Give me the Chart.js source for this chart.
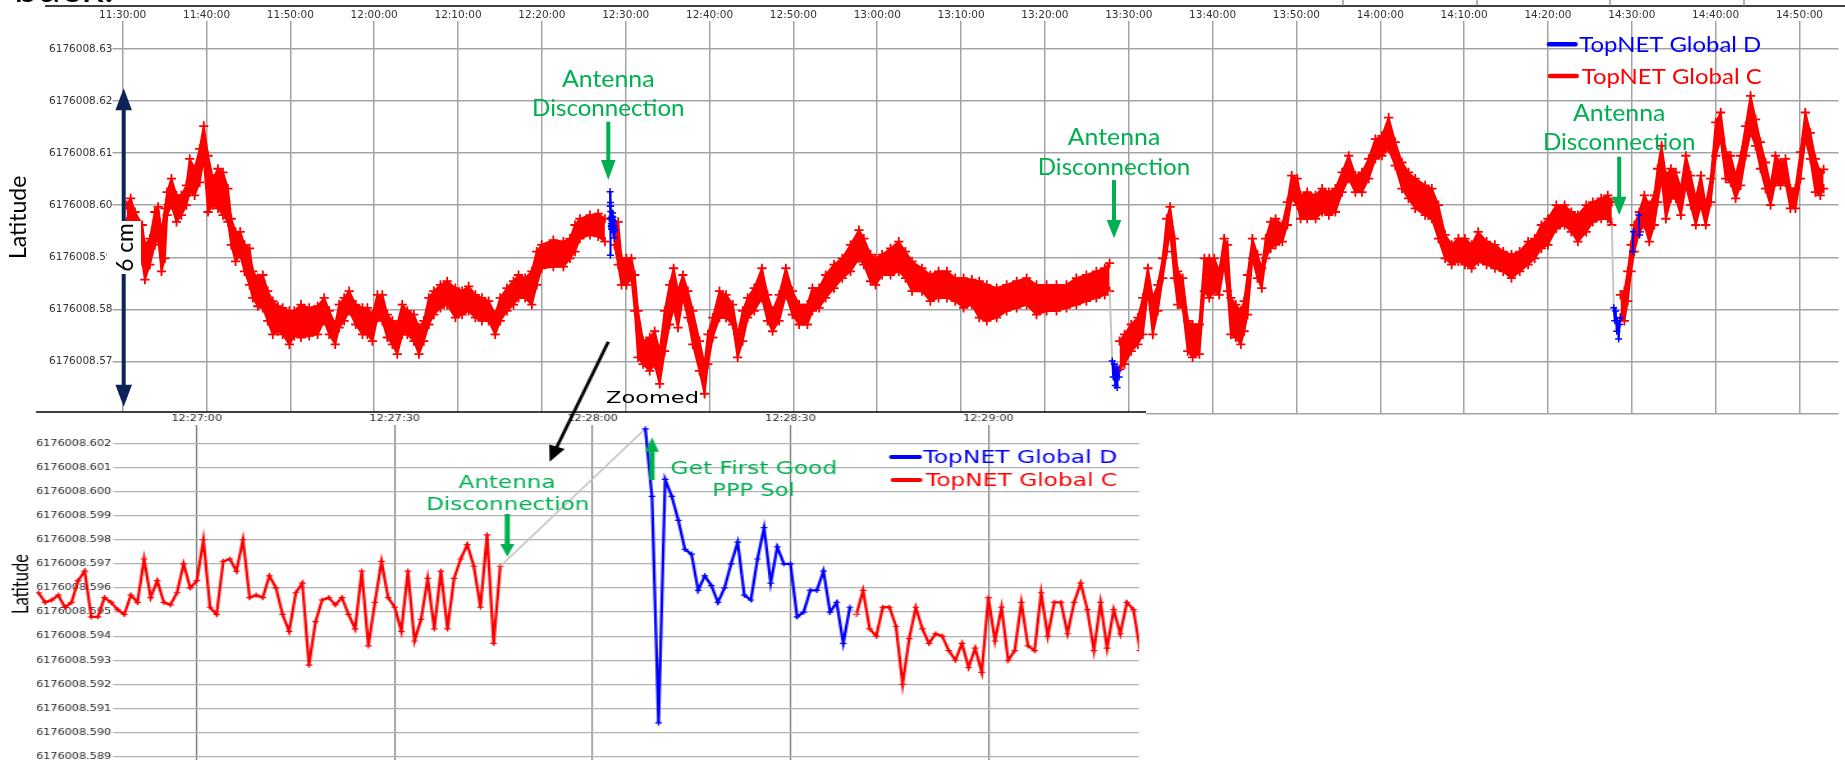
<!DOCTYPE html>
<html>
<head>
<meta charset="utf-8">
<script src="https://cdn.jsdelivr.net/npm/chart.js@4.4.1/dist/chart.umd.min.js"></script>
<style>
  html, body { margin: 0; padding: 0; background: #fff; width: 1845px; height: 771px; overflow: hidden; }
  #wrap { position: relative; width: 1845px; height: 771px; }
  #overview { position: absolute; left: 0; top: 0; z-index: 1; }
  #detail { position: absolute; left: 0; top: 330px; z-index: 2; transform: scaleX(1.28); transform-origin: 0 0; }
</style>
</head>
<body>
<div id="wrap">
  <canvas id="overview" width="1845" height="420" style="width:1845px;height:420px"></canvas>
  <canvas id="detail" width="895" height="441" style="width:895px;height:441px"></canvas>
</div>
<script>
// ---------- Overview (11:30 - 14:53): TopNET Global C band, upper / lower edge ----------
const segATimes = [
  '11:30:28','11:30:57','11:31:28','11:32:20','11:32:39','11:33:15','11:33:50','11:34:14','11:34:38','11:35:02',
  '11:35:18','11:35:49','11:36:25','11:37:00','11:37:36','11:38:00','11:38:35','11:39:11','11:39:40','11:40:11',
  '11:40:46','11:41:22','11:41:58','11:42:33','11:42:57','11:43:28','11:44:01','11:44:32','11:45:08','11:45:31',
  '11:46:07','11:46:43','11:47:18','11:47:54','11:48:30','11:49:05','11:49:53','11:50:28','11:51:16','11:52:15',
  '11:53:15','11:54:02','11:54:38','11:55:21','11:55:49','11:56:25','11:57:01','11:57:48','11:58:36','11:59:11',
  '11:59:47','12:00:23','12:00:58','12:01:34','12:02:10','12:02:45','12:03:21','12:03:57','12:04:44','12:05:20',
  '12:05:55','12:06:31','12:07:07','12:07:54','12:08:42','12:09:41','12:10:29','12:11:16','12:12:04','12:12:51',
  '12:13:39','12:14:26','12:15:02','12:15:50','12:16:37','12:17:13','12:18:00','12:18:48','12:19:23','12:19:59',
  '12:21:22','12:22:34','12:23:21','12:23:57','12:24:32','12:25:44','12:26:43','12:27:31'];
const segAHigh = [
  6176008.6000,6176008.6013,6176008.5987,6176008.5962,6176008.5924,6176008.5936,6176008.5987,6176008.5997,6176008.5949,6176008.5994,
  6176008.6025,6176008.6051,6176008.6019,6176008.6019,6176008.6038,6176008.6089,6176008.6070,6176008.6108,6176008.6152,6176008.6095,
  6176008.6051,6176008.6070,6176008.6063,6176008.6032,6176008.5974,6176008.5949,6176008.5949,6176008.5924,6176008.5917,6176008.5873,
  6176008.5860,6176008.5866,6176008.5835,6176008.5816,6176008.5806,6176008.5803,6176008.5797,6176008.5797,6176008.5809,6176008.5803,
  6176008.5806,6176008.5822,6176008.5797,6176008.5771,6176008.5809,6176008.5822,6176008.5835,6176008.5809,6176008.5803,6176008.5803,
  6176008.5790,6176008.5828,6176008.5828,6176008.5790,6176008.5778,6176008.5771,6176008.5809,6176008.5797,6176008.5790,6176008.5765,
  6176008.5778,6176008.5822,6176008.5835,6176008.5847,6176008.5854,6176008.5841,6176008.5835,6176008.5844,6176008.5828,6176008.5822,
  6176008.5816,6176008.5790,6176008.5822,6176008.5841,6176008.5854,6176008.5866,6176008.5860,6176008.5873,6176008.5911,6176008.5924,
  6176008.5933,6176008.5930,6176008.5936,6176008.5962,6176008.5974,6176008.5981,6176008.5984,6176008.5974];
const segALow = [
  6176008.5968,6176008.5974,6176008.5949,6176008.5892,6176008.5857,6176008.5886,6176008.5924,6176008.5936,6176008.5873,6176008.5898,
  6176008.5981,6176008.6000,6176008.5968,6176008.5981,6176008.6000,6176008.6025,6176008.6019,6176008.6044,6176008.6089,6176008.5987,
  6176008.6000,6176008.5994,6176008.5981,6176008.5968,6176008.5924,6176008.5892,6176008.5905,6176008.5873,6176008.5847,6176008.5822,
  6176008.5806,6176008.5803,6176008.5778,6176008.5752,6176008.5758,6176008.5752,6176008.5733,6176008.5749,6176008.5746,6176008.5749,
  6176008.5752,6176008.5778,6176008.5752,6176008.5733,6176008.5765,6176008.5778,6176008.5797,6176008.5771,6176008.5752,6176008.5752,
  6176008.5739,6176008.5784,6176008.5778,6176008.5746,6176008.5733,6176008.5714,6176008.5752,6176008.5752,6176008.5739,6176008.5714,
  6176008.5739,6176008.5771,6176008.5790,6176008.5803,6176008.5809,6176008.5784,6176008.5790,6176008.5797,6176008.5784,6176008.5778,
  6176008.5778,6176008.5752,6176008.5778,6176008.5797,6176008.5809,6176008.5822,6176008.5822,6176008.5809,6176008.5847,6176008.5879,
  6176008.5882,6176008.5882,6176008.5898,6176008.5911,6176008.5936,6176008.5943,6176008.5940,6176008.5930];

const segBTimes = [
  '12:28:40','12:29:06','12:29:30','12:30:05','12:30:41','12:31:05','12:31:28','12:32:04','12:32:52','12:33:27',
  '12:34:03','12:34:39','12:35:14','12:35:43','12:36:14','12:36:49','12:37:25','12:38:00','12:38:48','12:39:24',
  '12:39:48','12:40:23','12:41:11','12:41:58','12:42:46','12:43:21','12:43:57','12:44:33','12:45:20','12:46:15',
  '12:46:55','12:47:31','12:48:18','12:49:06','12:49:53','12:50:41','12:51:40','12:52:16','12:53:04','12:53:51',
  '12:54:51','12:55:50','12:56:49','12:57:49','12:58:24','12:59:12','12:59:48','13:00:35','13:01:35','13:02:34',
  '13:03:22','13:04:09','13:05:20','13:06:20','13:07:19','13:08:19','13:09:18','13:10:18','13:11:17','13:12:10',
  '13:13:04','13:14:15','13:15:26','13:16:38','13:17:49','13:19:00','13:20:12','13:21:23','13:22:34','13:23:45',
  '13:24:57','13:26:08','13:27:08','13:27:43'];
const segBHigh = [
  6176008.5968,6176008.5968,6176008.5898,6176008.5898,6176008.5898,6176008.5866,6176008.5797,6176008.5739,6176008.5746,6176008.5758,
  6176008.5720,6176008.5797,6176008.5847,6176008.5879,6176008.5835,6176008.5866,6176008.5835,6176008.5797,6176008.5739,6176008.5695,
  6176008.5752,6176008.5784,6176008.5835,6176008.5828,6176008.5809,6176008.5752,6176008.5797,6176008.5822,6176008.5841,6176008.5879,
  6176008.5828,6176008.5797,6176008.5828,6176008.5879,6176008.5835,6176008.5809,6176008.5809,6176008.5841,6176008.5841,6176008.5866,
  6176008.5886,6176008.5898,6176008.5924,6176008.5952,6176008.5936,6176008.5905,6176008.5898,6176008.5905,6176008.5917,6176008.5930,
  6176008.5911,6176008.5892,6176008.5879,6176008.5866,6176008.5873,6176008.5873,6176008.5860,6176008.5860,6176008.5857,6176008.5854,
  6176008.5847,6176008.5841,6176008.5847,6176008.5854,6176008.5860,6176008.5847,6176008.5847,6176008.5847,6176008.5847,6176008.5860,
  6176008.5866,6176008.5873,6176008.5879,6176008.5889];
const segBLow = [
  6176008.5924,6176008.5886,6176008.5847,6176008.5847,6176008.5860,6176008.5797,6176008.5708,6176008.5695,6176008.5682,6176008.5695,
  6176008.5657,6176008.5720,6176008.5771,6176008.5803,6176008.5765,6176008.5822,6176008.5784,6176008.5733,6176008.5682,6176008.5638,
  6176008.5695,6176008.5746,6176008.5784,6176008.5784,6176008.5771,6176008.5708,6176008.5739,6176008.5784,6176008.5797,6176008.5822,
  6176008.5778,6176008.5758,6176008.5778,6176008.5828,6176008.5790,6176008.5771,6176008.5771,6176008.5797,6176008.5803,6176008.5822,
  6176008.5841,6176008.5860,6176008.5873,6176008.5898,6176008.5886,6176008.5854,6176008.5847,6176008.5866,6176008.5866,6176008.5873,
  6176008.5860,6176008.5835,6176008.5835,6176008.5816,6176008.5822,6176008.5822,6176008.5816,6176008.5803,6176008.5809,6176008.5784,
  6176008.5778,6176008.5784,6176008.5797,6176008.5803,6176008.5809,6176008.5790,6176008.5797,6176008.5797,6176008.5803,6176008.5809,
  6176008.5816,6176008.5822,6176008.5828,6176008.5835];

const segCTimes = [
  '13:28:54','13:29:30','13:30:18','13:31:05','13:31:41','13:32:17','13:32:52','13:33:28','13:34:03','13:34:32',
  '13:34:56','13:35:27','13:35:50','13:36:26','13:37:02','13:37:37','13:38:25','13:39:01','13:39:36','13:40:12',
  '13:40:47','13:41:23','13:41:47','13:42:11','13:42:46','13:43:22','13:43:46','13:44:10','13:44:45','13:45:21',
  '13:45:52','13:46:20','13:46:56','13:47:31','13:48:19','13:48:55','13:49:26','13:50:06','13:50:30','13:51:17',
  '13:52:17','13:53:04','13:53:52','13:54:39','13:55:27','13:56:14','13:57:02','13:57:49','13:58:37','13:59:25',
  '14:00:12','14:01:00','14:01:47','14:02:35','14:03:22','14:04:10','14:05:21','14:06:09','14:06:56','14:07:44',
  '14:08:31','14:09:19','14:10:06','14:10:54','14:11:41','14:12:41','14:13:40','14:14:40','14:15:39','14:16:38',
  '14:17:38','14:18:25','14:19:13','14:20:00','14:21:00','14:21:59','14:22:47','14:23:34','14:24:34','14:25:21',
  '14:26:21','14:27:08','14:27:37'];
const segCHigh = [
  6176008.5739,6176008.5752,6176008.5771,6176008.5784,6176008.5822,6176008.5879,6176008.5822,6176008.5847,6176008.5898,6176008.5974,
  6176008.5997,6176008.5936,6176008.5873,6176008.5860,6176008.5778,6176008.5771,6176008.5771,6176008.5898,6176008.5898,6176008.5898,
  6176008.5873,6176008.5936,6176008.5924,6176008.5822,6176008.5809,6176008.5797,6176008.5816,6176008.5866,6176008.5936,6176008.5905,
  6176008.5879,6176008.5936,6176008.5968,6176008.5974,6176008.5962,6176008.6006,6176008.6057,6176008.6051,6176008.6019,6176008.6025,
  6176008.6019,6176008.6032,6176008.6025,6176008.6032,6176008.6063,6176008.6095,6176008.6057,6176008.6063,6176008.6089,6176008.6127,
  6176008.6133,6176008.6168,6176008.6121,6176008.6082,6176008.6063,6176008.6051,6176008.6038,6176008.6032,6176008.6000,6176008.5943,
  6176008.5924,6176008.5936,6176008.5936,6176008.5924,6176008.5949,6176008.5930,6176008.5924,6176008.5911,6176008.5905,6176008.5911,
  6176008.5930,6176008.5936,6176008.5962,6176008.5974,6176008.6000,6176008.6000,6176008.5987,6176008.5981,6176008.6000,6176008.6006,
  6176008.6013,6176008.6019,6176008.6006];
const segCLow = [
  6176008.5685,6176008.5695,6176008.5720,6176008.5733,6176008.5752,6176008.5835,6176008.5752,6176008.5797,6176008.5860,6176008.5911,
  6176008.5949,6176008.5860,6176008.5809,6176008.5803,6176008.5720,6176008.5708,6176008.5714,6176008.5835,6176008.5822,6176008.5835,
  6176008.5828,6176008.5886,6176008.5835,6176008.5752,6176008.5746,6176008.5733,6176008.5758,6176008.5790,6176008.5898,6176008.5860,
  6176008.5841,6176008.5898,6176008.5917,6176008.5924,6176008.5930,6176008.5962,6176008.6013,6176008.6000,6176008.5974,6176008.5974,
  6176008.5974,6176008.5987,6176008.5981,6176008.5987,6176008.6025,6176008.6051,6176008.6025,6176008.6025,6176008.6051,6176008.6089,
  6176008.6095,6176008.6108,6176008.6076,6176008.6032,6176008.6013,6176008.5994,6176008.5981,6176008.5974,6176008.5936,6176008.5898,
  6176008.5886,6176008.5892,6176008.5886,6176008.5879,6176008.5892,6176008.5886,6176008.5879,6176008.5873,6176008.5860,6176008.5873,
  6176008.5886,6176008.5898,6176008.5917,6176008.5924,6176008.5955,6176008.5962,6176008.5949,6176008.5930,6176008.5949,6176008.5968,
  6176008.5974,6176008.5974,6176008.5962];

const segDTimes = [
  '14:28:39','14:29:07','14:29:31','14:29:55','14:30:18','14:30:54','14:31:30','14:32:05','14:32:41','14:33:05',
  '14:33:33','14:34:04','14:34:40','14:35:15','14:35:51','14:36:27','14:37:02','14:37:38','14:38:14','14:38:49',
  '14:39:25','14:40:01','14:40:36','14:41:12','14:41:48','14:42:23','14:42:59','14:43:35','14:44:10','14:44:46',
  '14:45:21','14:45:57','14:46:33','14:47:08','14:47:44','14:48:20','14:48:55','14:49:31','14:50:07','14:50:42',
  '14:51:18','14:51:54','14:52:29','14:52:53'];
const segDHigh = [
  6176008.5828,6176008.5835,6176008.5873,6176008.5924,6176008.5962,6176008.5987,6176008.6019,6176008.6000,6176008.6019,6176008.6070,
  6176008.6114,6176008.6057,6176008.6070,6176008.6063,6176008.6032,6176008.6095,6176008.6057,6176008.6013,6176008.6057,6176008.6000,
  6176008.6051,6176008.6159,6176008.6178,6176008.6102,6176008.6095,6176008.6057,6176008.6095,6176008.6152,6176008.6210,6176008.6165,
  6176008.6121,6176008.6082,6176008.6038,6176008.6095,6176008.6082,6176008.6089,6176008.6032,6176008.6032,6176008.6102,6176008.6178,
  6176008.6139,6176008.6089,6176008.6063,6176008.6069];
const segDLow = [
  6176008.5784,6176008.5778,6176008.5816,6176008.5873,6176008.5911,6176008.5949,6176008.5962,6176008.5930,6176008.5962,6176008.6006,
  6176008.6051,6176008.5974,6176008.6013,6176008.6013,6176008.5981,6176008.6038,6176008.6000,6176008.5962,6176008.6000,6176008.5962,
  6176008.6006,6176008.6095,6176008.6127,6176008.6051,6176008.6044,6176008.6013,6176008.6038,6176008.6095,6176008.6140,6176008.6114,
  6176008.6070,6176008.6032,6176008.6000,6176008.6044,6176008.6038,6176008.6044,6176008.5994,6176008.5994,6176008.6051,6176008.6127,
  6176008.6089,6176008.6025,6176008.6019,6176008.6032];

// TopNET Global D after the 2nd and 3rd antenna reconnections
const blue2Times = ['13:28:02','13:28:09','13:28:16','13:28:23','13:28:30','13:28:37','13:28:44','13:28:51'];
const blue2Lat = [6176008.5701,6176008.5670,6176008.5695,6176008.5654,6176008.5689,6176008.5650,6176008.5682,6176008.5670];
const blue3Times = ['14:27:51','14:27:58','14:28:05','14:28:12','14:28:19','14:28:26','14:28:33','14:28:40'];
const blue3Lat = [6176008.5803,6176008.5778,6176008.5797,6176008.5758,6176008.5778,6176008.5743,6176008.5771,6176008.5784];
const blue4Times = ['14:30:06','14:30:12','14:30:30','14:30:50','14:30:56'];
const blue4Lat = [6176008.5911,6176008.5949,null,6176008.5981,6176008.5943];

const overviewTickTimes = ['11:30:00','11:40:00','11:50:00','12:00:00','12:10:00','12:20:00','12:30:00','12:40:00',
  '12:50:00','13:00:00','13:10:00','13:20:00','13:30:00','13:40:00','13:50:00','14:00:00','14:10:00','14:20:00',
  '14:30:00','14:40:00','14:50:00'];
const overviewLatTicks = [6176008.57,6176008.58,6176008.59,6176008.60,6176008.61,6176008.62,6176008.63];

// ---------- Zoom (12:26:36 - 12:29:23), one fix per second ----------
const zoomRedTimesA = [
  '12:26:36','12:26:37','12:26:38','12:26:39','12:26:40','12:26:41','12:26:42','12:26:43','12:26:44','12:26:45',
  '12:26:46','12:26:47','12:26:48','12:26:49','12:26:50','12:26:51','12:26:52','12:26:53','12:26:54','12:26:55',
  '12:26:56','12:26:57','12:26:58','12:26:59','12:27:00','12:27:01','12:27:02','12:27:03','12:27:04','12:27:05',
  '12:27:06','12:27:07','12:27:08','12:27:09','12:27:10','12:27:11','12:27:12','12:27:13','12:27:14','12:27:15',
  '12:27:16','12:27:17','12:27:18','12:27:19','12:27:20','12:27:21','12:27:22','12:27:23','12:27:24','12:27:25',
  '12:27:26','12:27:27','12:27:28','12:27:29','12:27:30','12:27:31','12:27:32','12:27:33','12:27:34','12:27:35',
  '12:27:36','12:27:37','12:27:38','12:27:39','12:27:40','12:27:41','12:27:42','12:27:43','12:27:44','12:27:45',
  '12:27:46'];
const zoomRedLatA = [
  6176008.5958,6176008.5954,6176008.5955,6176008.5957,6176008.5952,6176008.5954,6176008.5963,6176008.5967,6176008.5948,6176008.5948,
  6176008.5956,6176008.5954,6176008.5951,6176008.5949,6176008.5957,6176008.5954,6176008.5972,6176008.5956,6176008.5963,6176008.5954,
  6176008.5953,6176008.5958,6176008.5970,6176008.5960,6176008.5963,6176008.5980,6176008.5952,6176008.5949,6176008.5971,6176008.5972,
  6176008.5967,6176008.5980,6176008.5956,6176008.5957,6176008.5956,6176008.5965,6176008.5960,6176008.5949,6176008.5942,6176008.5958,
  6176008.5962,6176008.5928,6176008.5946,6176008.5955,6176008.5956,6176008.5953,6176008.5956,6176008.5949,6176008.5943,6176008.5967,
  6176008.5936,6176008.5954,6176008.5971,6176008.5956,6176008.5952,6176008.5942,6176008.5967,6176008.5938,6176008.5947,6176008.5964,
  6176008.5943,6176008.5967,6176008.5943,6176008.5964,6176008.5972,6176008.5978,6176008.5969,6176008.5952,6176008.5982,6176008.5937,
  6176008.5969];
const zoomBlueTimes = [
  '12:28:08','12:28:09','12:28:10','12:28:11','12:28:12','12:28:13','12:28:14','12:28:15','12:28:16','12:28:17',
  '12:28:18','12:28:19','12:28:20','12:28:21','12:28:22','12:28:23','12:28:24','12:28:25','12:28:26','12:28:27',
  '12:28:28','12:28:29','12:28:30','12:28:31','12:28:32','12:28:33','12:28:34','12:28:35','12:28:36','12:28:37',
  '12:28:38','12:28:39'];
const zoomBlueLat = [
  6176008.6026,6176008.5998,6176008.5904,6176008.6005,6176008.5998,6176008.5988,6176008.5976,6176008.5974,6176008.5959,6176008.5965,
  6176008.5961,6176008.5954,6176008.5960,6176008.5970,6176008.5979,6176008.5957,6176008.5955,6176008.5972,6176008.5985,6176008.5962,
  6176008.5977,6176008.5970,6176008.5970,6176008.5948,6176008.5950,6176008.5959,6176008.5959,6176008.5967,6176008.5950,6176008.5954,
  6176008.5937,6176008.5952];
const zoomRedTimesB = [
  '12:28:40','12:28:41','12:28:42','12:28:43','12:28:44','12:28:45','12:28:46','12:28:47','12:28:48','12:28:49',
  '12:28:50','12:28:51','12:28:52','12:28:53','12:28:54','12:28:55','12:28:56','12:28:57','12:28:58','12:28:59',
  '12:29:00','12:29:01','12:29:02','12:29:03','12:29:04','12:29:05','12:29:06','12:29:07','12:29:08','12:29:09',
  '12:29:10','12:29:11','12:29:12','12:29:13','12:29:14','12:29:15','12:29:16','12:29:17','12:29:18','12:29:19',
  '12:29:20','12:29:21','12:29:22','12:29:23'];
const zoomRedLatB = [
  6176008.5949,6176008.5959,6176008.5943,6176008.5940,6176008.5952,6176008.5952,6176008.5944,6176008.5920,6176008.5939,6176008.5952,
  6176008.5943,6176008.5937,6176008.5941,6176008.5940,6176008.5934,6176008.5930,6176008.5937,6176008.5927,6176008.5935,6176008.5925,
  6176008.5956,6176008.5938,6176008.5952,6176008.5930,6176008.5934,6176008.5954,6176008.5936,6176008.5934,6176008.5958,6176008.5940,
  6176008.5954,6176008.5954,6176008.5941,6176008.5954,6176008.5962,6176008.5951,6176008.5934,6176008.5954,6176008.5935,6176008.5951,
  6176008.5941,6176008.5954,6176008.5951,6176008.5934];

const zoomTickTimes = ['12:27:00','12:27:30','12:28:00','12:28:30','12:29:00'];
const zoomLatTicks = [6176008.589,6176008.590,6176008.591,6176008.592,6176008.593,6176008.594,6176008.595,
  6176008.596,6176008.597,6176008.598,6176008.599,6176008.600,6176008.601,6176008.602];

// ---------- helpers ----------
const RED = '#ff0000', BLUE = '#0000ff', GAP = '#c6c6c6', GREEN = '#00b050';
const toSec = t => { const p = t.split(':').map(Number); return p[0] * 3600 + p[1] * 60 + p[2]; };
const clock = v => {
  const s = Math.round(v);
  return [Math.floor(s / 3600), Math.floor((s % 3600) / 60), s % 60].map(n => String(n).padStart(2, '0')).join(':');
};
const pts = (times, lats) => times.map((t, i) => ({ x: toSec(t), y: lats[i] }));
const last = a => a[a.length - 1];

function fitText(ctx, text, x, baseline, width, font, color, align) {
  ctx.save();
  ctx.font = font;
  ctx.fillStyle = color;
  ctx.textBaseline = 'alphabetic';
  ctx.textAlign = align || 'center';
  const w = ctx.measureText(text).width;
  ctx.translate(x, baseline);
  ctx.scale(width / w, 1);
  ctx.fillText(text, 0, 0);
  ctx.restore();
}
function arrow(ctx, x1, y1, x2, y2, lw, headLen, headHalf, color) {
  const dx = x2 - x1, dy = y2 - y1, L = Math.hypot(dx, dy), ux = dx / L, uy = dy / L;
  const bx = x2 - ux * headLen, by = y2 - uy * headLen;
  ctx.save();
  ctx.strokeStyle = color; ctx.fillStyle = color; ctx.lineWidth = lw; ctx.lineCap = 'butt';
  ctx.beginPath(); ctx.moveTo(x1, y1); ctx.lineTo(bx + ux, by + uy); ctx.stroke();
  ctx.beginPath();
  ctx.moveTo(x2, y2);
  ctx.lineTo(bx - uy * headHalf, by + ux * headHalf);
  ctx.lineTo(bx + uy * headHalf, by - ux * headHalf);
  ctx.closePath(); ctx.fill();
  ctx.restore();
}
function legendEntry(ctx, x1, x2, y, lw, color, text, tx, tw, baseline, font) {
  ctx.save();
  ctx.strokeStyle = color; ctx.lineWidth = lw; ctx.lineCap = 'round';
  ctx.beginPath(); ctx.moveTo(x1, y); ctx.lineTo(x2, y); ctx.stroke();
  ctx.restore();
  fitText(ctx, text, tx, baseline, tw, font, color, 'left');
}

// ---------- overview chart ----------
const bandStyle = {
  borderColor: RED, backgroundColor: RED, borderWidth: 2,
  pointStyle: 'cross', pointRadius: 4.6, pointBorderWidth: 1.8,
  pointBorderColor: RED, pointBackgroundColor: RED, tension: 0
};
const band = (label, times, hi, lo) => [
  { ...bandStyle, label, data: pts(times, hi), fill: false },
  { ...bandStyle, label, data: pts(times, lo), fill: '-1' }
];
const blueStyle = {
  borderColor: BLUE, backgroundColor: BLUE, borderWidth: 2, pointStyle: 'cross',
  pointRadius: 3.5, pointBorderWidth: 1.5, pointBorderColor: BLUE, fill: false, spanGaps: false
};
const gapStyle = { borderColor: GAP, borderWidth: 2, pointRadius: 0, fill: false };

const OV_X0 = toSec('11:29:05'), OV_X1 = toSec('14:54:40');
const OV_Y0 = 6176008.55999, OV_Y1 = 6176008.63537;

const overviewNotes = {
  id: 'overviewNotes',
  afterDraw(chart) {
    const ctx = chart.ctx;
    const noteFont = '23px Lato';
    // antenna disconnection markers
    [[608.3, 86.7, 116, 121.7, 180, 160],
     [1114, 145, 175, 180, 238.3, 220],
     [1619.2, 120.7, 150, 156.7, 215, 196.7]].forEach(([x, b1, b2, y1, tip, base]) => {
      fitText(ctx, 'Antenna', x, b1, 92.5, noteFont, GREEN);
      fitText(ctx, 'Disconnection', x, b2, 152.5, noteFont, GREEN);
      arrow(ctx, x, y1, x, tip, 4, tip - base, 7.3, GREEN);
    });
    // 6 cm span marker
    const navy = '#0d2457';
    arrow(ctx, 123.7, 247, 123.7, 88.3, 4, 22, 8.3, navy);
    arrow(ctx, 123.7, 247, 123.7, 406.7, 4, 22, 8.3, navy);
    ctx.save(); ctx.fillStyle = '#fff'; ctx.fillRect(107, 221, 34, 53); ctx.restore();
    ctx.save();
    ctx.translate(133.3, 247.5); ctx.rotate(-Math.PI / 2);
    fitText(ctx, '6 cm', 0, 0, 48.4, '23px Lato', '#000');
    ctx.restore();
    // legend
    legendEntry(ctx, 1549, 1575.5, 44.3, 4.5, BLUE, 'TopNET Global D', 1579.3, 182, 52, '22px Lato');
    legendEntry(ctx, 1550, 1576.7, 76, 4.5, RED, 'TopNET Global C', 1581.7, 180, 84, '22px Lato');
    // zoom caption
    fitText(ctx, 'Zoomed', 652.5, 403.3, 93, "16px 'DejaVu Sans'", '#000');
    // frame of the slide above the plot
    ctx.save();
    ctx.fillStyle = '#000';
    ctx.textBaseline = 'alphabetic';
    ctx.textAlign = 'left';
    ctx.font = '44px Lato';
    ctx.fillText('back.', 14, 1.5);
    ctx.strokeStyle = '#000'; ctx.lineWidth = 1.5;
    ctx.beginPath(); ctx.moveTo(45, 6); ctx.lineTo(1845, 6); ctx.stroke();
    ctx.strokeStyle = '#9a9a9a';
    [1343, 1477, 1610, 1744].forEach(x => { ctx.beginPath(); ctx.moveTo(x, 0); ctx.lineTo(x, 5.5); ctx.stroke(); });
    ctx.restore();
  }
};

new Chart(document.getElementById('overview'), {
  type: 'line',
  data: {
    datasets: [
      { ...blueStyle, label: 'TopNET Global D', data: pts(zoomBlueTimes, zoomBlueLat) },
      { ...blueStyle, label: 'TopNET Global D', data: pts(blue2Times, blue2Lat) },
      { ...blueStyle, label: 'TopNET Global D', data: pts(blue3Times, blue3Lat) },
      { ...blueStyle, label: 'TopNET Global D', data: pts(blue4Times, blue4Lat) },
      { ...gapStyle, data: [{ x: toSec(last(segBTimes)), y: last(segBLow) }, { x: toSec(blue2Times[0]), y: blue2Lat[0] }] },
      { ...gapStyle, data: [{ x: toSec(last(segCTimes)), y: last(segCLow) }, { x: toSec(blue3Times[0]), y: blue3Lat[0] }] },
      ...band('TopNET Global C', segATimes, segAHigh, segALow),
      ...band('TopNET Global C', segBTimes, segBHigh, segBLow),
      ...band('TopNET Global C', segCTimes, segCHigh, segCLow),
      ...band('TopNET Global C', segDTimes, segDHigh, segDLow)
    ]
  },
  options: {
    responsive: false, animation: false, devicePixelRatio: 1,
    layout: { padding: { left: 0, right: 0, top: 0, bottom: 3.5 } },
    plugins: { legend: { display: false }, tooltip: { enabled: false } },
    scales: {
      x: {
        type: 'linear', position: 'top', min: OV_X0, max: OV_X1,
        afterBuildTicks: s => { s.ticks = overviewTickTimes.map(t => ({ value: toSec(t) })); },
        afterFit: s => { s.height = 21; s.paddingLeft = 0; s.paddingRight = 0; },
        ticks: { callback: v => clock(v), font: { family: 'DejaVu Sans', size: 10.5 }, color: '#333',
                 padding: -1, maxRotation: 0, autoSkip: false },
        grid: { color: '#a3a3a3', lineWidth: 1.5, drawTicks: false },
        border: { display: false }
      },
      y: {
        type: 'linear', min: OV_Y0, max: OV_Y1,
        afterBuildTicks: s => { s.ticks = [OV_Y0, ...overviewLatTicks].map(v => ({ value: v })); },
        afterFit: s => { s.width = 115; s.paddingTop = 0; s.paddingBottom = 0; },
        ticks: { callback: v => (v === OV_Y0 ? '' : v.toFixed(2)), font: { family: 'DejaVu Sans', size: 10.5 },
                 color: '#333', padding: 0 },
        grid: { color: '#a3a3a3', lineWidth: 1.5, tickLength: 2.5 },
        border: { display: false },
        title: { display: true, text: 'Latitude', font: { family: 'Lato', size: 23 }, color: '#000',
                 padding: { top: 5, bottom: 0 } }
      }
    }
  },
  plugins: [overviewNotes]
});

// ---------- zoom chart (drawn narrow, widened by the page stretch) ----------
const S = 1.28, TOP = 330;
const ZX0 = toSec('12:26:35') + 0.62, ZX1 = toSec('12:29:22') + 0.83;
const ZY0 = 6176008.588863, ZY1 = 6176008.602759;
const dotStyle = (color) => ({
  borderColor: color, backgroundColor: color, borderWidth: 2.3, pointStyle: 'cross',
  pointRadius: 2.6, pointBorderWidth: 1.2, pointBorderColor: color, fill: false, tension: 0
});

const detailNotes = {
  id: 'detailNotes',
  beforeDraw(chart) {
    const ctx = chart.ctx;
    ctx.save(); ctx.fillStyle = '#fff'; ctx.fillRect(0, 412 - TOP, chart.width, chart.height); ctx.restore();
  },
  afterDraw(chart) {
    const ctx = chart.ctx;
    const X = x => x / S, Y = y => y - TOP;
    // inset frame
    ctx.save(); ctx.strokeStyle = '#000'; ctx.lineWidth = 1.6;
    ctx.beginPath(); ctx.moveTo(X(36), Y(412)); ctx.lineTo(chart.width, Y(412)); ctx.stroke(); ctx.restore();
    // pointer from the overview to the inset
    arrow(ctx, X(608.3), Y(341.7), X(549.6), Y(461.7), 2.6, 16, 6.5, '#000');
    // annotations
    const f = "17px 'DejaVu Sans'";
    fitText(ctx, 'Antenna', X(507.1), Y(488.3), X(96.8), f, GREEN);
    fitText(ctx, 'Disconnection', X(507.7), Y(510), X(162.9), f, GREEN);
    arrow(ctx, X(507.3), Y(514), X(507.3), Y(556.7), 4, 12.7, 5.5, GREEN);
    fitText(ctx, 'Get First Good', X(753.8), Y(474), X(166.5), f, GREEN);
    fitText(ctx, 'PPP Sol', X(753.5), Y(495.7), X(82.2), f, GREEN);
    arrow(ctx, X(652), Y(480), X(652), Y(437.3), 4, 14.4, 5.3, GREEN);
    // legend
    legendEntry(ctx, X(891.5), X(919.6), Y(457), 3.8, BLUE, 'TopNET Global D', X(923.3), X(193.9), Y(463.3), f);
    legendEntry(ctx, X(893), X(920), Y(480), 3.8, RED, 'TopNET Global C', X(925.9), X(191.3), Y(486), f);
    // axis title
    ctx.save();
    ctx.translate(X(28.5), Y(584)); ctx.rotate(-Math.PI / 2);
    fitText(ctx, 'Latitude', 0, 0, 60, '17px Lato', '#000');
    ctx.restore();
  }
};

new Chart(document.getElementById('detail'), {
  type: 'line',
  data: {
    datasets: [
      { ...dotStyle(BLUE), label: 'TopNET Global D', data: pts(zoomBlueTimes, zoomBlueLat) },
      { ...gapStyle, borderWidth: 1.6, data: [{ x: toSec(last(zoomRedTimesA)), y: last(zoomRedLatA) }, { x: toSec(zoomBlueTimes[0]), y: zoomBlueLat[0] }] },
      { ...gapStyle, borderWidth: 1.6, data: [{ x: toSec(last(zoomBlueTimes)), y: last(zoomBlueLat) }, { x: toSec(zoomRedTimesB[0]), y: zoomRedLatB[0] }] },
      { ...dotStyle(RED), label: 'TopNET Global C', data: pts(zoomRedTimesA, zoomRedLatA) },
      { ...dotStyle(RED), label: 'TopNET Global C', data: pts(zoomRedTimesB, zoomRedLatB) }
    ]
  },
  options: {
    responsive: false, animation: false, devicePixelRatio: 1,
    layout: { padding: { left: 36 / S, right: 0.5, top: 412 - TOP, bottom: 11 } },
    plugins: { legend: { display: false }, tooltip: { enabled: false } },
    scales: {
      x: {
        type: 'linear', position: 'top', min: ZX0, max: ZX1,
        afterBuildTicks: s => { s.ticks = zoomTickTimes.map(t => ({ value: toSec(t) })); },
        afterFit: s => { s.height = 13; s.paddingLeft = 0; s.paddingRight = 0; },
        ticks: { callback: v => clock(v), font: { family: 'DejaVu Sans', size: 8.8 }, color: '#2a2a2a',
                 padding: 0.7, maxRotation: 0, autoSkip: false },
        grid: { color: '#7e7e7e', lineWidth: 1.1, drawTicks: false },
        border: { display: false }
      },
      y: {
        type: 'linear', min: ZY0, max: ZY1,
        afterBuildTicks: s => { s.ticks = zoomLatTicks.map(v => ({ value: v })); },
        afterFit: s => { s.width = 0; s.paddingTop = 0; s.paddingBottom = 0; },
        ticks: { callback: v => v.toFixed(3), mirror: true, padding: 0, font: { family: 'DejaVu Sans', size: 8.8 },
                 color: '#2a2a2a', showLabelBackdrop: true, backdropColor: '#fff',
                 backdropPadding: { top: 0, bottom: 0, left: 0, right: 1.5 } },
        grid: { color: '#b2b2b2', lineWidth: 1.3, drawTicks: false },
        border: { display: false }
      }
    }
  },
  plugins: [detailNotes]
});
</script>
</body>
</html>
